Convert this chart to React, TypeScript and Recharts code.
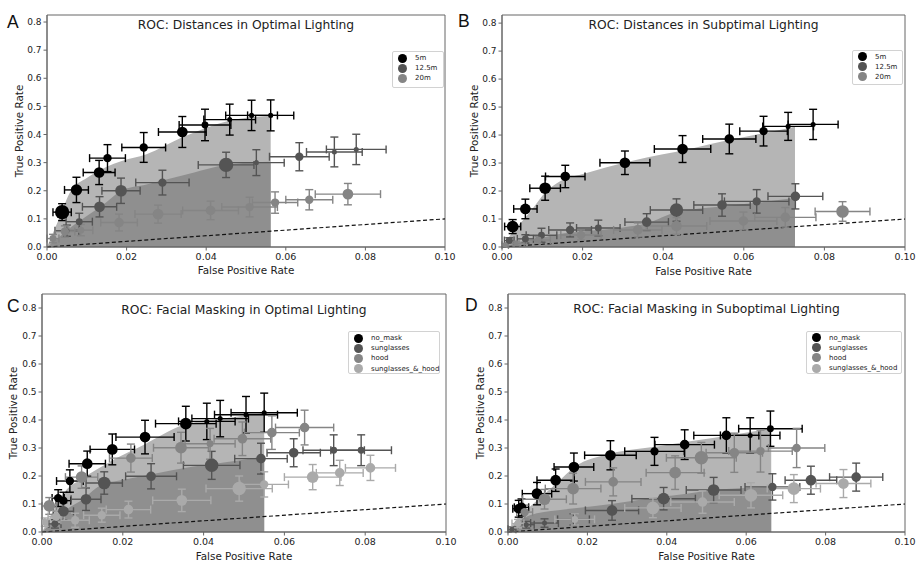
import React from "react";
import {
  ComposedChart, Area, Scatter, ErrorBar, XAxis, YAxis, ZAxis,
  ReferenceLine, ReferenceArea, Legend,
} from "recharts";

const FONT = "'DejaVu Sans', sans-serif";
const FRAME = "#666";
const SHADE_HI = "#b5b5b5";
const SHADE_LO = "#8f8f8f";
const K0 = "#000000";
const K1 = "#545454";
const K2 = "#858585";
const K3 = "#aaaaaa";

type Pt = { x: number; y: number; ex: number; ey: number; w: number };
type Edge = { x: number; hi: number; lo: number };

const xTicks = [0, 0.02, 0.04, 0.06, 0.08, 0.1];
const yTicks = [0, 0.1, 0.2, 0.3, 0.4, 0.5, 0.6, 0.7, 0.8];

// A: distances, optimal lighting
const a5m: Pt[] = [
  { x: 0.0038, y: 0.124, ex: 0.0023, ey: 0.03, w: 5 },
  { x: 0.0074, y: 0.203, ex: 0.003, ey: 0.045, w: 3.3 },
  { x: 0.0131, y: 0.265, ex: 0.004, ey: 0.043, w: 3 },
  { x: 0.0152, y: 0.316, ex: 0.0045, ey: 0.048, w: 2 },
  { x: 0.0243, y: 0.354, ex: 0.0055, ey: 0.053, w: 2 },
  { x: 0.034, y: 0.409, ex: 0.006, ey: 0.055, w: 3 },
  { x: 0.0397, y: 0.434, ex: 0.0065, ey: 0.056, w: 1.5 },
  { x: 0.0459, y: 0.453, ex: 0.0065, ey: 0.055, w: 1 },
  { x: 0.0514, y: 0.468, ex: 0.0065, ey: 0.054, w: 1 },
  { x: 0.0562, y: 0.468, ex: 0.0058, ey: 0.055, w: 1 },
];
const a12m: Pt[] = [
  { x: 0.005, y: 0.058, ex: 0.003, ey: 0.02, w: 1 },
  { x: 0.0081, y: 0.09, ex: 0.0033, ey: 0.03, w: 1.5 },
  { x: 0.0132, y: 0.143, ex: 0.0043, ey: 0.036, w: 3 },
  { x: 0.0186, y: 0.2, ex: 0.0048, ey: 0.045, w: 3.5 },
  { x: 0.029, y: 0.229, ex: 0.0067, ey: 0.044, w: 2 },
  { x: 0.045, y: 0.292, ex: 0.007, ey: 0.045, w: 5 },
  { x: 0.0526, y: 0.3, ex: 0.007, ey: 0.046, w: 1 },
  { x: 0.0634, y: 0.321, ex: 0.0075, ey: 0.05, w: 2 },
  { x: 0.0722, y: 0.338, ex: 0.007, ey: 0.053, w: 1 },
  { x: 0.0777, y: 0.347, ex: 0.0075, ey: 0.054, w: 1 },
];
const a20m: Pt[] = [
  { x: 0.0015, y: 0.03, ex: 0.0015, ey: 0.015, w: 1.5 },
  { x: 0.0045, y: 0.055, ex: 0.0025, ey: 0.02, w: 2 },
  { x: 0.0085, y: 0.06, ex: 0.003, ey: 0.02, w: 1.5 },
  { x: 0.0181, y: 0.087, ex: 0.0046, ey: 0.03, w: 2.5 },
  { x: 0.0279, y: 0.117, ex: 0.0058, ey: 0.032, w: 3 },
  { x: 0.0411, y: 0.13, ex: 0.007, ey: 0.033, w: 2.5 },
  { x: 0.0509, y: 0.142, ex: 0.007, ey: 0.035, w: 2 },
  { x: 0.0573, y: 0.158, ex: 0.0057, ey: 0.038, w: 2 },
  { x: 0.0659, y: 0.168, ex: 0.0059, ey: 0.036, w: 2 },
  { x: 0.0756, y: 0.188, ex: 0.0082, ey: 0.038, w: 3 },
];
const aShade: Edge[] = [
  { x: 0, hi: 0, lo: 0 },
  { x: 0.003, hi: 0.1, lo: 0.035 },
  { x: 0.006, hi: 0.2, lo: 0.07 },
  { x: 0.01, hi: 0.245, lo: 0.11 },
  { x: 0.015, hi: 0.285, lo: 0.16 },
  { x: 0.0186, hi: 0.305, lo: 0.2 },
  { x: 0.025, hi: 0.33, lo: 0.222 },
  { x: 0.034, hi: 0.39, lo: 0.254 },
  { x: 0.046, hi: 0.45, lo: 0.294 },
  { x: 0.0562, hi: 0.467, lo: 0.303 },
];

// B: distances, suboptimal lighting
const b5m: Pt[] = [
  { x: 0.00265, y: 0.073, ex: 0.002, ey: 0.025, w: 3.5 },
  { x: 0.0058, y: 0.136, ex: 0.0029, ey: 0.035, w: 3 },
  { x: 0.0107, y: 0.21, ex: 0.0038, ey: 0.043, w: 3.5 },
  { x: 0.0157, y: 0.252, ex: 0.0049, ey: 0.04, w: 2.5 },
  { x: 0.0305, y: 0.301, ex: 0.0062, ey: 0.042, w: 3 },
  { x: 0.0448, y: 0.35, ex: 0.007, ey: 0.048, w: 3 },
  { x: 0.0564, y: 0.386, ex: 0.0066, ey: 0.053, w: 2.5 },
  { x: 0.0649, y: 0.414, ex: 0.0059, ey: 0.053, w: 2 },
  { x: 0.071, y: 0.431, ex: 0.0063, ey: 0.05, w: 1 },
  { x: 0.0772, y: 0.438, ex: 0.0062, ey: 0.054, w: 1 },
];
const b12m: Pt[] = [
  { x: 0.0018, y: 0.023, ex: 0.0012, ey: 0.01, w: 1.5 },
  { x: 0.0058, y: 0.029, ex: 0.002, ey: 0.015, w: 1.5 },
  { x: 0.0098, y: 0.042, ex: 0.0038, ey: 0.025, w: 1.5 },
  { x: 0.0169, y: 0.061, ex: 0.0053, ey: 0.025, w: 2 },
  { x: 0.0239, y: 0.068, ex: 0.0054, ey: 0.028, w: 1.5 },
  { x: 0.0359, y: 0.089, ex: 0.0054, ey: 0.03, w: 2.5 },
  { x: 0.0433, y: 0.132, ex: 0.0065, ey: 0.04, w: 4.5 },
  { x: 0.0546, y: 0.15, ex: 0.007, ey: 0.04, w: 2.5 },
  { x: 0.0632, y: 0.163, ex: 0.008, ey: 0.042, w: 2 },
  { x: 0.0728, y: 0.181, ex: 0.0068, ey: 0.045, w: 2.5 },
];
const b20m: Pt[] = [
  { x: 0.0008, y: 0.007, ex: 0.0008, ey: 0.006, w: 1 },
  { x: 0.0035, y: 0.013, ex: 0.002, ey: 0.008, w: 1 },
  { x: 0.009, y: 0.025, ex: 0.003, ey: 0.012, w: 1.5 },
  { x: 0.0196, y: 0.043, ex: 0.005, ey: 0.018, w: 2 },
  { x: 0.0337, y: 0.061, ex: 0.006, ey: 0.025, w: 2.5 },
  { x: 0.0433, y: 0.075, ex: 0.0075, ey: 0.03, w: 3 },
  { x: 0.0599, y: 0.093, ex: 0.0083, ey: 0.032, w: 2.5 },
  { x: 0.0703, y: 0.106, ex: 0.0076, ey: 0.035, w: 2.5 },
  { x: 0.0845, y: 0.127, ex: 0.0068, ey: 0.035, w: 4 },
];
const bShade: Edge[] = [
  { x: 0, hi: 0, lo: 0 },
  { x: 0.003, hi: 0.06, lo: 0.012 },
  { x: 0.0055, hi: 0.1, lo: 0.022 },
  { x: 0.008, hi: 0.145, lo: 0.03 },
  { x: 0.0107, hi: 0.195, lo: 0.036 },
  { x: 0.0136, hi: 0.228, lo: 0.045 },
  { x: 0.021, hi: 0.264, lo: 0.057 },
  { x: 0.03, hi: 0.3, lo: 0.07 },
  { x: 0.0359, hi: 0.32, lo: 0.085 },
  { x: 0.0433, hi: 0.34, lo: 0.125 },
  { x: 0.0546, hi: 0.377, lo: 0.145 },
  { x: 0.0632, hi: 0.402, lo: 0.158 },
  { x: 0.0727, hi: 0.43, lo: 0.175 },
];

// C: facial masking, optimal lighting
const cNoMask: Pt[] = [
  { x: 0.004, y: 0.121, ex: 0.0015, ey: 0.03, w: 2 },
  { x: 0.0053, y: 0.112, ex: 0.0018, ey: 0.03, w: 2 },
  { x: 0.0069, y: 0.182, ex: 0.0033, ey: 0.04, w: 2 },
  { x: 0.0112, y: 0.244, ex: 0.0045, ey: 0.045, w: 3 },
  { x: 0.0174, y: 0.295, ex: 0.0055, ey: 0.055, w: 3 },
  { x: 0.0255, y: 0.339, ex: 0.0072, ey: 0.06, w: 3 },
  { x: 0.0356, y: 0.387, ex: 0.0075, ey: 0.062, w: 3.5 },
  { x: 0.0408, y: 0.395, ex: 0.007, ey: 0.065, w: 1 },
  { x: 0.0441, y: 0.405, ex: 0.007, ey: 0.065, w: 1 },
  { x: 0.0505, y: 0.419, ex: 0.0078, ey: 0.065, w: 1 },
  { x: 0.055, y: 0.426, ex: 0.0082, ey: 0.07, w: 1 },
];
const cSun: Pt[] = [
  { x: 0.0032, y: 0.029, ex: 0.0015, ey: 0.015, w: 1.5 },
  { x: 0.0053, y: 0.074, ex: 0.0025, ey: 0.03, w: 3 },
  { x: 0.0109, y: 0.117, ex: 0.0037, ey: 0.04, w: 3 },
  { x: 0.0154, y: 0.175, ex: 0.0045, ey: 0.04, w: 4 },
  { x: 0.027, y: 0.199, ex: 0.0063, ey: 0.045, w: 2.5 },
  { x: 0.042, y: 0.238, ex: 0.007, ey: 0.05, w: 4.5 },
  { x: 0.0542, y: 0.262, ex: 0.0065, ey: 0.055, w: 2.5 },
  { x: 0.0623, y: 0.283, ex: 0.0066, ey: 0.05, w: 2.5 },
  { x: 0.0722, y: 0.292, ex: 0.0076, ey: 0.055, w: 1.5 },
  { x: 0.079, y: 0.292, ex: 0.0075, ey: 0.055, w: 1.5 },
];
const cHood: Pt[] = [
  { x: 0.0018, y: 0.093, ex: 0.0018, ey: 0.03, w: 3.5 },
  { x: 0.0098, y: 0.196, ex: 0.004, ey: 0.04, w: 3.5 },
  { x: 0.022, y: 0.264, ex: 0.0053, ey: 0.05, w: 2.5 },
  { x: 0.0344, y: 0.301, ex: 0.0068, ey: 0.055, w: 3.5 },
  { x: 0.0416, y: 0.315, ex: 0.0062, ey: 0.055, w: 1.5 },
  { x: 0.0496, y: 0.333, ex: 0.007, ey: 0.06, w: 2.5 },
  { x: 0.0569, y: 0.355, ex: 0.0068, ey: 0.06, w: 2.5 },
  { x: 0.065, y: 0.373, ex: 0.0072, ey: 0.062, w: 2.5 },
];
const cSunHood: Pt[] = [
  { x: 0.0007, y: 0.035, ex: 0.0007, ey: 0.015, w: 1.5 },
  { x: 0.0035, y: 0.055, ex: 0.002, ey: 0.02, w: 2 },
  { x: 0.0082, y: 0.042, ex: 0.0035, ey: 0.025, w: 2 },
  { x: 0.0148, y: 0.06, ex: 0.0045, ey: 0.025, w: 2 },
  { x: 0.0214, y: 0.08, ex: 0.0055, ey: 0.03, w: 2.5 },
  { x: 0.0346, y: 0.113, ex: 0.0072, ey: 0.04, w: 3 },
  { x: 0.0488, y: 0.155, ex: 0.0082, ey: 0.045, w: 4.5 },
  { x: 0.055, y: 0.17, ex: 0.006, ey: 0.045, w: 2 },
  { x: 0.067, y: 0.196, ex: 0.007, ey: 0.045, w: 3.5 },
  { x: 0.0737, y: 0.211, ex: 0.0058, ey: 0.045, w: 2.5 },
  { x: 0.0813, y: 0.229, ex: 0.0062, ey: 0.045, w: 2.5 },
];
const cShade: Edge[] = [
  { x: 0, hi: 0, lo: 0 },
  { x: 0.003, hi: 0.08, lo: 0.04 },
  { x: 0.006, hi: 0.15, lo: 0.08 },
  { x: 0.0094, hi: 0.186, lo: 0.11 },
  { x: 0.0156, hi: 0.24, lo: 0.175 },
  { x: 0.0185, hi: 0.264, lo: 0.182 },
  { x: 0.025, hi: 0.31, lo: 0.2 },
  { x: 0.035, hi: 0.382, lo: 0.228 },
  { x: 0.045, hi: 0.405, lo: 0.248 },
  { x: 0.055, hi: 0.425, lo: 0.27 },
];

// D: facial masking, suboptimal lighting
const dNoMask: Pt[] = [
  { x: 0.0027, y: 0.083, ex: 0.0015, ey: 0.03, w: 2.5 },
  { x: 0.0034, y: 0.088, ex: 0.0018, ey: 0.03, w: 2.5 },
  { x: 0.0073, y: 0.137, ex: 0.0037, ey: 0.04, w: 3 },
  { x: 0.012, y: 0.185, ex: 0.0047, ey: 0.04, w: 3 },
  { x: 0.0166, y: 0.232, ex: 0.005, ey: 0.05, w: 3 },
  { x: 0.0258, y: 0.274, ex: 0.0065, ey: 0.052, w: 3 },
  { x: 0.0369, y: 0.288, ex: 0.0075, ey: 0.05, w: 2 },
  { x: 0.0445, y: 0.312, ex: 0.0075, ey: 0.053, w: 2.5 },
  { x: 0.055, y: 0.345, ex: 0.0082, ey: 0.063, w: 2.5 },
  { x: 0.061, y: 0.345, ex: 0.0075, ey: 0.063, w: 1 },
  { x: 0.0661, y: 0.369, ex: 0.008, ey: 0.063, w: 1.5 },
];
const dSun: Pt[] = [
  { x: 0.001, y: 0.01, ex: 0.001, ey: 0.008, w: 1 },
  { x: 0.0046, y: 0.026, ex: 0.002, ey: 0.012, w: 1 },
  { x: 0.0092, y: 0.032, ex: 0.0035, ey: 0.015, w: 1 },
  { x: 0.0165, y: 0.045, ex: 0.004, ey: 0.02, w: 1 },
  { x: 0.0262, y: 0.077, ex: 0.0067, ey: 0.035, w: 3 },
  { x: 0.0392, y: 0.119, ex: 0.008, ey: 0.04, w: 3.5 },
  { x: 0.0518, y: 0.15, ex: 0.0069, ey: 0.045, w: 3.5 },
  { x: 0.0666, y: 0.161, ex: 0.0069, ey: 0.047, w: 2 },
  { x: 0.0763, y: 0.185, ex: 0.0065, ey: 0.05, w: 3 },
  { x: 0.0877, y: 0.196, ex: 0.0067, ey: 0.05, w: 2.5 },
];
const dHood: Pt[] = [
  { x: 0.0042, y: 0.071, ex: 0.002, ey: 0.025, w: 2 },
  { x: 0.0092, y: 0.117, ex: 0.0055, ey: 0.035, w: 3.5 },
  { x: 0.0164, y: 0.155, ex: 0.007, ey: 0.055, w: 3.5 },
  { x: 0.0265, y: 0.179, ex: 0.007, ey: 0.05, w: 2.5 },
  { x: 0.0421, y: 0.212, ex: 0.0073, ey: 0.06, w: 3.5 },
  { x: 0.0487, y: 0.265, ex: 0.0088, ey: 0.055, w: 4.5 },
  { x: 0.057, y: 0.283, ex: 0.0071, ey: 0.07, w: 2.5 },
  { x: 0.0636, y: 0.289, ex: 0.008, ey: 0.075, w: 2 },
  { x: 0.0727, y: 0.3, ex: 0.0071, ey: 0.07, w: 2 },
];
const dSunHood: Pt[] = [
  { x: 0.0025, y: 0.03, ex: 0.0015, ey: 0.015, w: 1.5 },
  { x: 0.0168, y: 0.045, ex: 0.005, ey: 0.02, w: 1.5 },
  { x: 0.0365, y: 0.086, ex: 0.0071, ey: 0.035, w: 4 },
  { x: 0.049, y: 0.107, ex: 0.008, ey: 0.04, w: 2.5 },
  { x: 0.0612, y: 0.131, ex: 0.008, ey: 0.045, w: 4 },
  { x: 0.072, y: 0.155, ex: 0.0067, ey: 0.05, w: 4 },
  { x: 0.0845, y: 0.173, ex: 0.0069, ey: 0.05, w: 3 },
];
const dShade: Edge[] = [
  { x: 0, hi: 0, lo: 0 },
  { x: 0.003, hi: 0.06, lo: 0.04 },
  { x: 0.0055, hi: 0.09, lo: 0.06 },
  { x: 0.0126, hi: 0.179, lo: 0.078 },
  { x: 0.0168, hi: 0.232, lo: 0.085 },
  { x: 0.026, hi: 0.28, lo: 0.1 },
  { x: 0.038, hi: 0.306, lo: 0.125 },
  { x: 0.045, hi: 0.322, lo: 0.137 },
  { x: 0.052, hi: 0.337, lo: 0.15 },
  { x: 0.0663, hi: 0.369, lo: 0.16 },
];

type Series = { name: string; color: string; data: Pt[] };

type PanelCfg = {
  left: number; top: number;
  letter: string; letterX: number; letterY: number;
  title: string; titleOffset: number;
  plot: { l: number; r: number; t: number; b: number };
  ymax: number;
  yLabelOffset: number; xLabelOffset: number;
  shade: Edge[];
  series: Series[];
  legend: { left: number; top: number; width: number; height: number };
};

const W = 458;
const H = 282;
const YW = 30;
const XH = 30;

const panels: PanelCfg[] = [
  {
    left: 0, top: 0, letter: "A", letterX: 7, letterY: 27.5,
    title: "ROC: Distances in Optimal Lighting", titleOffset: 5.6,
    plot: { l: 47, r: 445, t: 15, b: 247 }, ymax: 0.825,
    yLabelOffset: 2.5, xLabelOffset: 3,
    shade: aShade,
    series: [
      { name: "5m", color: K0, data: a5m },
      { name: "12.5m", color: K1, data: a12m },
      { name: "20m", color: K2, data: a20m },
    ],
    legend: { left: 392, top: 51, width: 52, height: 37 },
  },
  {
    left: 458, top: 0, letter: "B", letterX: 458, letterY: 27,
    title: "ROC: Distances in Subptimal Lighting", titleOffset: 5.6,
    plot: { l: 44, r: 447, t: 15, b: 247 }, ymax: 0.829,
    yLabelOffset: 2.5, xLabelOffset: 2,
    shade: bShade,
    series: [
      { name: "5m", color: K0, data: b5m },
      { name: "12.5m", color: K1, data: b12m },
      { name: "20m", color: K2, data: b20m },
    ],
    legend: { left: 394, top: 49.5, width: 51, height: 35 },
  },
  {
    left: 0, top: 282, letter: "C", letterX: 7, letterY: 312,
    title: "ROC: Facial Masking in Optimal Lighting", titleOffset: 11,
    plot: { l: 42, r: 446, t: 12, b: 250 }, ymax: 0.85,
    yLabelOffset: 1.5, xLabelOffset: 2.3,
    shade: cShade,
    series: [
      { name: "no_mask", color: K0, data: cNoMask },
      { name: "sunglasses", color: K1, data: cSun },
      { name: "hood", color: K2, data: cHood },
      { name: "sunglasses_&_hood", color: K3, data: cSunHood },
    ],
    legend: { left: 348, top: 49, width: 92, height: 43 },
  },
  {
    left: 458, top: 282, letter: "D", letterX: 465, letterY: 311,
    title: "ROC: Facial Masking in Suboptimal Lighting", titleOffset: 10.3,
    plot: { l: 50, r: 447, t: 12, b: 250 }, ymax: 0.85,
    yLabelOffset: 2, xLabelOffset: 1.7,
    shade: dShade,
    series: [
      { name: "no_mask", color: K0, data: dNoMask },
      { name: "sunglasses", color: K1, data: dSun },
      { name: "hood", color: K2, data: dHood },
      { name: "sunglasses_&_hood", color: K3, data: dSunHood },
    ],
    legend: { left: 348, top: 48.5, width: 96, height: 43 },
  },
];

// legend box in the series' own order (not alphabetical)
const makeLegend = (order: string[]) => (props: any) => {
  const items = (props.payload || [])
    .filter((p: any) => p.type !== "none")
    .slice()
    .sort((a: any, b: any) => order.indexOf(a.value) - order.indexOf(b.value));
  return (
    <div
      style={{
        width: "100%", height: "100%", boxSizing: "border-box",
        border: "1px solid #d2d2d2", borderRadius: 2,
        background: "rgba(255,255,255,0.85)", padding: "1px 0 0 5px",
        fontFamily: FONT, fontSize: 7, color: "#222",
      }}
    >
      {items.map((p: any) => (
        <div key={p.value} style={{ display: "flex", alignItems: "center", height: 10.2 }}>
          <span
            style={{
              width: 9, height: 9, borderRadius: "50%", background: p.color,
              marginRight: 8, flex: "none",
            }}
          />
          <span style={{ whiteSpace: "nowrap" }}>{p.value}</span>
        </div>
      ))}
    </div>
  );
};

const Panel = ({ cfg }: { cfg: PanelCfg }) => {
  const { plot } = cfg;
  const margin = {
    top: plot.t,
    right: W - plot.r,
    bottom: H - plot.b - XH,
    left: plot.l - YW,
  };
  const tickX = { fontSize: 9.5, fill: "#222", fontFamily: FONT };
  const tickY = { fontSize: 9, fill: "#222", fontFamily: FONT };
  return (
    <div style={{ position: "absolute", left: cfg.left, top: cfg.top, width: W, height: H }}>
      <ComposedChart width={W} height={H} data={cfg.shade} margin={margin}>
        <XAxis
          type="number" dataKey="x" domain={[0, 0.1]} ticks={xTicks} interval={0}
          allowDataOverflow height={XH} tickSize={3.5} tickMargin={3}
          tickFormatter={(v: number) => v.toFixed(2)}
          tick={tickX} axisLine={{ stroke: FRAME }} tickLine={{ stroke: FRAME }}
          label={{
            value: "False Positive Rate", position: "insideBottom", offset: cfg.xLabelOffset,
            style: { fontSize: 10.4, fill: "#222", fontFamily: FONT },
          }}
        />
        <YAxis
          type="number" domain={[0, cfg.ymax]} ticks={yTicks} interval={0}
          allowDataOverflow width={YW} tickSize={3.5} tickMargin={2}
          tickFormatter={(v: number) => v.toFixed(1)}
          tick={tickY} axisLine={{ stroke: FRAME }} tickLine={{ stroke: FRAME }}
          label={{
            value: "True Positive Rate", angle: -90, position: "insideLeft", offset: cfg.yLabelOffset,
            style: { fontSize: 10.4, fill: "#222", fontFamily: FONT, textAnchor: "middle" },
          }}
        />
        <ZAxis type="number" dataKey="w" domain={[1, 5]} range={[20, 160]} />
        <Area
          type="monotone" dataKey="hi" stroke="none" fill={SHADE_HI} fillOpacity={1}
          isAnimationActive={false} legendType="none" dot={false} activeDot={false}
        />
        <Area
          type="monotone" dataKey="lo" stroke="none" fill={SHADE_LO} fillOpacity={1}
          isAnimationActive={false} legendType="none" dot={false} activeDot={false}
        />
        <ReferenceLine
          segment={[{ x: 0, y: 0 }, { x: 0.1, y: 0.1 }]}
          stroke="#111" strokeWidth={1.2} strokeDasharray="4 2.5"
        />
        {cfg.series.map((s) => (
          <Scatter
            key={s.name} name={s.name} data={s.data} dataKey="y" fill={s.color}
            isAnimationActive={false} legendType="circle"
          >
            <ErrorBar dataKey="ex" direction="x" width={4} stroke={s.color} strokeWidth={1.4} />
            <ErrorBar dataKey="ey" direction="y" width={4} stroke={s.color} strokeWidth={1.4} />
          </Scatter>
        ))}
        <ReferenceArea
          x1={0} x2={0.1} y1={0} y2={cfg.ymax} fill="none" stroke={FRAME} strokeWidth={1}
          label={{
            value: cfg.title, position: "insideTop", offset: cfg.titleOffset,
            fontSize: 12.3, fill: "#222", fontFamily: FONT,
          }}
        />
        <Legend
          layout="horizontal" align="center" verticalAlign="middle"
          content={makeLegend(cfg.series.map((s) => s.name))}
          wrapperStyle={{
            left: cfg.legend.left, top: cfg.legend.top,
            width: cfg.legend.width, height: cfg.legend.height,
          }}
        />
      </ComposedChart>
    </div>
  );
};

export default function App() {
  return (
    <div style={{ position: "absolute", left: 0, top: 0, width: 916, height: 564, background: "#fff" }}>
      {panels.map((p) => (
        <Panel key={p.letter} cfg={p} />
      ))}
      <svg
        width={916} height={564}
        style={{ position: "absolute", left: 0, top: 0, pointerEvents: "none" }}
      >
        {panels.map((p) => (
          <text
            key={p.letter} x={p.letterX} y={p.letterY}
            fontSize={17.5} fontFamily="'Liberation Sans', Arial, sans-serif" fill="#111"
          >
            {p.letter}
          </text>
        ))}
      </svg>
    </div>
  );
}
